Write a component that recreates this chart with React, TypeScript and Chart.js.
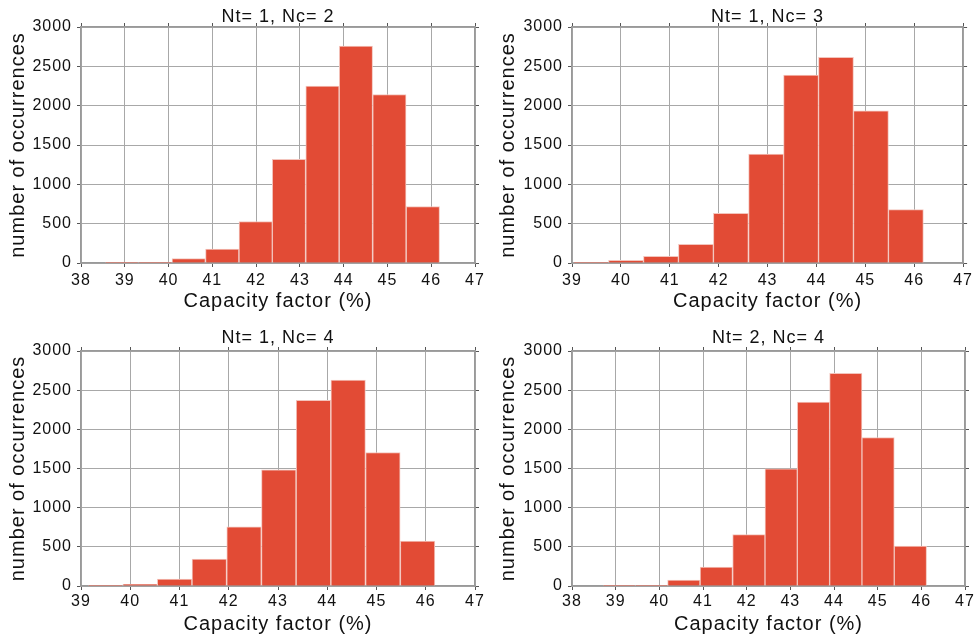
import React, { useEffect, useRef } from "react";
import { Chart, registerables } from "chart.js";

Chart.register(...registerables);

// ---------- data ----------
const yAxisTitle = "number of occurrences";
const xAxisTitle = "Capacity factor (%)";
const yTickStep = 500;
const yMax = 3000;

const titleNt1Nc2 = "Nt= 1, Nc= 2";
const titleNt1Nc3 = "Nt= 1, Nc= 3";
const titleNt1Nc4 = "Nt= 1, Nc= 4";
const titleNt2Nc4 = "Nt= 2, Nc= 4";

const xRangeNt1Nc2 = [38, 47];
const xRangeNt1Nc3 = [39, 47];
const xRangeNt1Nc4 = [39, 47];
const xRangeNt2Nc4 = [38, 47];

const edgesNt1Nc2 = [38.55, 39.31, 40.08, 40.84, 41.61, 42.37, 43.13, 43.9, 44.66, 45.43, 46.19];
const countsNt1Nc2 = [2, 3, 55, 177, 528, 1318, 2248, 2759, 2142, 718];

const edgesNt1Nc3 = [39.03, 39.75, 40.46, 41.18, 41.89, 42.61, 43.33, 44.04, 44.76, 45.47, 46.19];
const countsNt1Nc3 = [5, 34, 85, 238, 632, 1383, 2389, 2614, 1935, 679];

const edgesNt1Nc4 = [39.14, 39.85, 40.55, 41.25, 41.96, 42.66, 43.37, 44.07, 44.78, 45.48, 46.19];
const countsNt1Nc4 = [4, 21, 89, 345, 754, 1483, 2369, 2629, 1704, 575];

const edgesNt2Nc4 = [38.71, 39.45, 40.19, 40.93, 41.68, 42.42, 43.16, 43.9, 44.64, 45.38, 46.12];
const countsNt2Nc4 = [3, 9, 77, 243, 656, 1496, 2348, 2714, 1896, 511];

// ---------- styling ----------
const FONT = "'Liberation Sans', Arial, Helvetica, sans-serif";
const BAR_FILL = "#e24b35";
const BAR_EDGE = "#f3c4bc";
const GRID = "#a8a8a8";
const BORDER = "#999999";
const TICK_MARK = "#555555";
const TEXT = "#111111";

type Layout = {
  left: number; top: number; width: number; height: number;
  leftW: number; rightW: number; topH: number; bottomH: number;
  titlePad: number; tickPad: number; xTitlePad: number; yTitlePad: number;
};

const letterSpacingPlugin = {
  id: "letterSpacing",
  beforeDraw(chart: any) {
    try { chart.ctx.letterSpacing = "1px"; } catch (e) {}
  },
};

const plainNumber = (v: any) => String(v);

function Panel(props: { title: string; edges: number[]; counts: number[]; xRange: number[]; layout: Layout }) {
  const ref = useRef<HTMLCanvasElement>(null);
  const { title, edges, counts, xRange, layout: L } = props;

  useEffect(() => {
    if (!ref.current) return;
    const points = counts.map((c, i) => ({ x: (edges[i] + edges[i + 1]) / 2, y: c }));
    const gridCommon = { color: GRID, lineWidth: 1, tickLength: 4, tickColor: TICK_MARK, tickWidth: 1, offset: false };
    const borderCommon = { color: BORDER, width: 1.5 };
    const chart = new Chart(ref.current, {
      type: "bar",
      data: {
        datasets: [
          {
            data: points as any,
            backgroundColor: BAR_FILL,
            borderColor: BAR_EDGE,
            borderWidth: 1,
            barPercentage: 1,
            categoryPercentage: 1,
          },
        ],
      },
      options: {
        responsive: false,
        animation: false,
        devicePixelRatio: 1,
        layout: { padding: 0 },
        plugins: { legend: { display: false }, tooltip: { enabled: false }, title: { display: false } },
        scales: {
          x: {
            type: "linear",
            position: "bottom",
            offset: false,
            min: xRange[0],
            max: xRange[1],
            ticks: { stepSize: 1, font: { family: FONT, size: 16 }, color: TEXT, padding: L.tickPad, maxRotation: 0, autoSkip: false, callback: plainNumber },
            grid: gridCommon,
            border: borderCommon,
            title: { display: true, text: xAxisTitle, font: { family: FONT, size: 20 }, color: TEXT, padding: { top: 0, bottom: L.xTitlePad } },
            afterFit: (s: any) => { s.height = L.bottomH; },
          },
          x2: {
            type: "linear",
            position: "top",
            offset: false,
            min: xRange[0],
            max: xRange[1],
            ticks: { stepSize: 1, display: false },
            grid: { ...gridCommon, drawOnChartArea: false },
            border: borderCommon,
            title: { display: true, text: title, font: { family: FONT, size: 18 }, color: TEXT, padding: { top: L.titlePad, bottom: 0 } },
            afterFit: (s: any) => { s.height = L.topH; },
          },
          y: {
            type: "linear",
            position: "left",
            min: 0,
            max: yMax,
            ticks: { stepSize: yTickStep, font: { family: FONT, size: 16 }, color: TEXT, padding: 5, callback: plainNumber },
            grid: gridCommon,
            border: borderCommon,
            title: { display: true, text: yAxisTitle, font: { family: FONT, size: 20 }, color: TEXT, padding: { top: L.yTitlePad, bottom: 0 } },
            afterFit: (s: any) => { s.width = L.leftW; },
          },
          y2: {
            type: "linear",
            position: "right",
            min: 0,
            max: yMax,
            ticks: { stepSize: yTickStep, display: false },
            grid: { ...gridCommon, drawOnChartArea: false },
            border: borderCommon,
            afterFit: (s: any) => { s.width = L.rightW; },
          },
        },
      } as any,
      plugins: [letterSpacingPlugin],
    });
    return () => chart.destroy();
  }, []);

  return (
    <canvas
      ref={ref}
      width={L.width}
      height={L.height}
      style={{ position: "absolute", left: L.left, top: L.top, width: L.width, height: L.height }}
    />
  );
}

const layoutTL: Layout = { left: 0, top: 0, width: 488, height: 319, leftW: 81, rightW: 13, topH: 27, bottomH: 56, titlePad: 6, tickPad: 4, xTitlePad: 6, yTitlePad: 6 };
const layoutTR: Layout = { left: 488, top: 0, width: 488, height: 319, leftW: 84, rightW: 11, topH: 27, bottomH: 56, titlePad: 6, tickPad: 4, xTitlePad: 6, yTitlePad: 8 };
const layoutBL: Layout = { left: 0, top: 319, width: 488, height: 319, leftW: 81, rightW: 13, topH: 32, bottomH: 52, titlePad: 8, tickPad: 2, xTitlePad: 2, yTitlePad: 6 };
const layoutBR: Layout = { left: 488, top: 319, width: 488, height: 319, leftW: 84, rightW: 11, topH: 32, bottomH: 52, titlePad: 8, tickPad: 2, xTitlePad: 2, yTitlePad: 8 };

export default function App() {
  return (
    <div style={{ position: "absolute", left: 0, top: 0, width: 976, height: 638, background: "#ffffff", overflow: "hidden" }}>
      <Panel title={titleNt1Nc2} edges={edgesNt1Nc2} counts={countsNt1Nc2} xRange={xRangeNt1Nc2} layout={layoutTL} />
      <Panel title={titleNt1Nc3} edges={edgesNt1Nc3} counts={countsNt1Nc3} xRange={xRangeNt1Nc3} layout={layoutTR} />
      <Panel title={titleNt1Nc4} edges={edgesNt1Nc4} counts={countsNt1Nc4} xRange={xRangeNt1Nc4} layout={layoutBL} />
      <Panel title={titleNt2Nc4} edges={edgesNt2Nc4} counts={countsNt2Nc4} xRange={xRangeNt2Nc4} layout={layoutBR} />
    </div>
  );
}
